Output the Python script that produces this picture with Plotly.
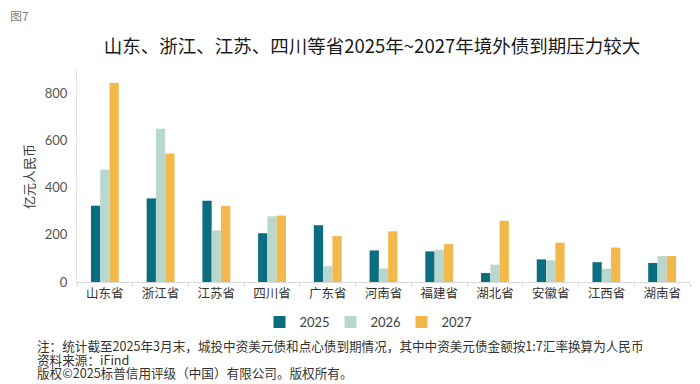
import plotly.graph_objects as go

categories = ["山东省", "浙江省", "江苏省", "四川省", "广东省", "河南省", "福建省", "湖北省", "安徽省", "江西省", "湖南省"]
v2025 = [324, 355, 345, 207, 241, 134, 130, 38, 96, 84, 81]
v2026 = [477, 651, 219, 279, 67, 58, 137, 74, 92, 57, 110]
v2027 = [845, 546, 323, 282, 195, 215, 161, 260, 167, 146, 110]
series_names = ["2025", "2026", "2027"]
y_ticks = [0, 200, 400, 600, 800]

colors = ["#0b6e80", "#b8d8ce", "#f3b84b"]
CJK = "Noto Sans CJK SC"

# page body has an 8px margin; work in page pixels and convert
OFF = 8
W, HT = 700 - OFF, 384 - OFF
PL, PR, PT, PB = 77, 690, 70, 282  # plot area in page pixels
L, R, T, B = PL - OFF, W - (PR - OFF), PT - OFF, HT - (PB - OFF)
PW, PH = PR - PL, PB - PT

def py(ypage):
    return (PB - ypage) / PH

def px(xpage):
    return (xpage - PL) / PW

fig = go.Figure()
for name, vals, c in zip(series_names, [v2025, v2026, v2027], colors):
    fig.add_trace(go.Bar(x=categories, y=vals, name=name, marker=dict(color=c, line=dict(width=0))))

fig.update_layout(
    width=W, height=HT,
    margin=dict(l=L, r=R, t=T, b=B, autoexpand=False),
    paper_bgcolor="white", plot_bgcolor="white",
    barmode="group", bargap=0.5, bargroupgap=0,
    font=dict(family=CJK, color="#404040"),
    title=dict(text="山东、浙江、江苏、四川等省2025年~2027年境外债到期压力较大",
               x=(372 - OFF) / W, xanchor="center", y=1 - (47 - OFF) / HT, yanchor="middle",
               font=dict(size=18.5, color="#1a1a1a", family=CJK)),
    showlegend=True,
    legend=dict(orientation="h", x=px(366), xanchor="center", y=py(322), yanchor="middle",
                font=dict(size=13, color="#404040", family="Lato"),
                entrywidth=26, entrywidthmode="pixels", itemwidth=30, traceorder="normal"),
    xaxis=dict(showline=True, linecolor="#d9d9d9", linewidth=1,
               ticks="outside", ticklen=4, tickcolor="#d9d9d9", tickson="boundaries",
               tickfont=dict(size=12.5, color="#333333", family=CJK), showgrid=False),
    yaxis=dict(range=[0, 900], tickvals=y_ticks, showgrid=False, showline=True,
               linecolor="#e6e6e6", linewidth=1, zeroline=False,
               tickfont=dict(size=13, color="#555555", family="Lato"),
               ticks="", ticklabelstandoff=6),
)

fig.add_annotation(text="图7", xref="paper", yref="paper", x=px(8),
                   y=py(16), xanchor="left", yanchor="middle", showarrow=False,
                   font=dict(size=12, color="#7f7f7f", family=CJK))
fig.add_annotation(text="亿元人民币", xref="paper", yref="paper", x=px(28),
                   y=py(177), xanchor="center", yanchor="middle", textangle=-90, showarrow=False,
                   font=dict(size=13, color="#404040", family=CJK))
notes = [
    (345, "注：统计截至2025年3月末，城投中资美元债和点心债到期情况，其中中资美元债金额按1:7汇率换算为人民币"),
    (359, "资料来源：iFind"),
    (372, "版权©2025标普信用评级（中国）有限公司。版权所有。"),
]
for ypage, t in notes:
    fig.add_annotation(text=t, xref="paper", yref="paper", x=px(35),
                       y=py(ypage), xanchor="left", yanchor="middle", align="left", showarrow=False,
                       font=dict(size=12.6, color="#333333", family=CJK))

fig.write_html("out.html")
